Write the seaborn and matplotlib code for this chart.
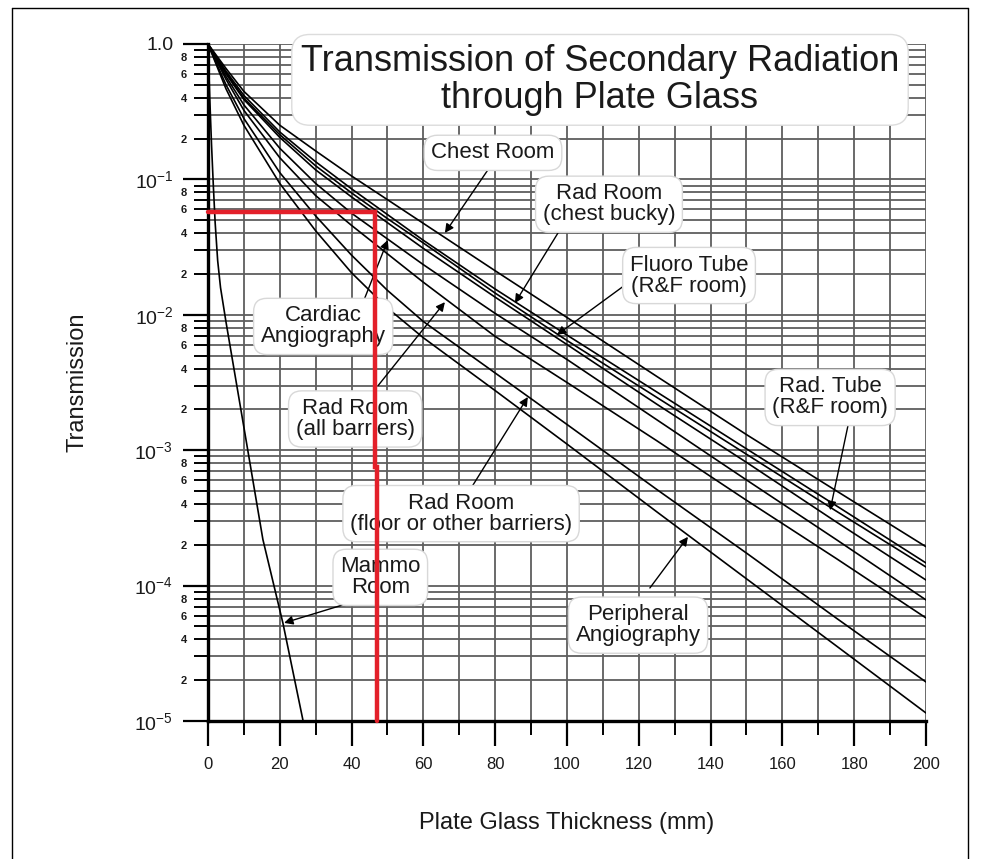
import numpy as np
import pandas as pd
import matplotlib
matplotlib.use("Agg")
import matplotlib.pyplot as plt
import seaborn as sns
from matplotlib.ticker import FixedLocator, FixedFormatter
from matplotlib.lines import Line2D

# ---------------- data (log10 of transmission) ----------------
thickness_mm = [0, 5, 10, 20, 30, 40, 50, 60, 80, 100, 125, 150, 175, 200]
chest_room_log = [0, -0.18, -0.35, -0.60, -0.79, -0.975, -1.15, -1.325, -1.675, -2.02, -2.455, -2.885, -3.30, -3.713]
rad_chest_bucky_log = [0, -0.20, -0.38, -0.65, -0.87, -1.07, -1.26, -1.45, -1.81, -2.15, -2.57, -2.99, -3.41, -3.833]
rad_tube_rf_log = [0, -0.21, -0.40, -0.67, -0.90, -1.10, -1.29, -1.47, -1.84, -2.19, -2.61, -3.03, -3.45, -3.863]
fluoro_tube_rf_log = [0, -0.22, -0.41, -0.69, -0.93, -1.13, -1.32, -1.51, -1.87, -2.22, -2.66, -3.09, -3.53, -3.959]
cardiac_angio_log = [0, -0.24, -0.45, -0.77, -1.03, -1.25, -1.44, -1.63, -1.99, -2.33, -2.775, -3.22, -3.66, -4.106]
rad_all_barriers_log = [0, -0.26, -0.49, -0.84, -1.12, -1.34, -1.55, -1.76, -2.16, -2.50, -2.93, -3.37, -3.80, -4.239]
rad_floor_log = [0, -0.30, -0.55, -0.95, -1.27, -1.56, -1.82, -2.05, -2.43, -2.81, -3.29, -3.76, -4.24, -4.712]
peripheral_angio_log = [0, -0.33, -0.60, -1.03, -1.38, -1.69, -1.95, -2.17, -2.56, -2.955, -3.455, -3.95, -4.445, -4.941]

mammo_mm = [0, 0.5, 1, 1.5, 2, 2.7, 3.5, 5, 10, 15.3, 20.9, 26.5]
mammo_log = [0, -0.40, -0.75, -1.05, -1.32, -1.60, -1.80, -2.05, -2.83, -3.66, -4.28, -5.0]

# red reading line
red_mm = [0, 46.5, 46.5, 47.2, 47.2]
red_T = [0.057, 0.057, 7.5e-4, 7.5e-4, 1e-5]

x_ticks = [0, 20, 40, 60, 80, 100, 120, 140, 160, 180, 200]
x_tick_labels = ["0", "20", "40", "60", "80", "100", "120", "140", "160", "180", "200"]
y_major = [1e-5, 1e-4, 1e-3, 1e-2, 1e-1, 1.0]
y_major_labels = ["$10^{-5}$", "$10^{-4}$", "$10^{-3}$", "$10^{-2}$", "$10^{-1}$", "1.0"]
y_minor_mult = [2, 3, 4, 5, 6, 7, 8, 9]
y_minor_mult_labels = ["2", "", "4", "", "6", "", "8", ""]

title_text = "Transmission of Secondary Radiation\nthrough Plate Glass"
x_label = "Plate Glass Thickness (mm)"
y_label = "Transmission"

curve_names = ["Chest Room", "Rad Room (chest bucky)", "Rad Tube (R&F room)", "Fluoro Tube (R&F room)",
               "Cardiac Angiography", "Rad Room (all barriers)", "Rad Room (floor or other barriers)",
               "Peripheral Angiography"]
curve_logs = [chest_room_log, rad_chest_bucky_log, rad_tube_rf_log, fluoro_tube_rf_log,
              cardiac_angio_log, rad_all_barriers_log, rad_floor_log, peripheral_angio_log]

# labels: (text, center x mm, center T, tail x, tail T, head x, head T)
labels = [
    ("Chest Room", 79.4, 0.157, 78.3, 0.121, 66.0, 0.0402),
    ("Rad Room\n(chest bucky)", 111.7, 0.0655, 97.5, 0.0402, 85.5, 0.0122),
    ("Fluoro Tube\n(R&F room)", 134.0, 0.0195, 117.0, 0.0172, 97.2, 0.0071),
    ("Rad. Tube\n(R&F room)", 173.3, 2.45e-3, 178.3, 1.53e-3, 173.3, 3.6e-4),
    ("Cardiac\nAngiography", 32.1, 8.2e-3, 42.9, 0.0118, 50.1, 0.0357),
    ("Rad Room\n(all barriers)", 41.0, 1.7e-3, 47.4, 3.0e-3, 66.0, 0.0124),
    ("Rad Room\n(floor or other barriers)", 70.5, 3.4e-4, 73.0, 5.1e-4, 89.1, 2.47e-3),
    ("Mammo\nRoom", 48.0, 1.15e-4, 37.6, 7.2e-5, 21.2, 5.3e-5),
    ("Peripheral\nAngiography", 119.8, 5.1e-5, 123.1, 9.6e-5, 133.7, 2.29e-4),
]

# ---------------- build table ----------------
rows = []
for name, lg in zip(curve_names, curve_logs):
    for xv, lv in zip(thickness_mm, lg):
        rows.append((name, xv, 10.0 ** lv))
for xv, lv in zip(mammo_mm, mammo_log):
    rows.append(("Mammo Room", xv, 10.0 ** lv))
df = pd.DataFrame(rows, columns=["room", "thickness", "transmission"])

# ---------------- style ----------------
sns.set_theme(style="white")
plt.rcParams['font.family'] = ['Liberation Sans', 'DejaVu Sans']
plt.rcParams['mathtext.fontset'] = 'custom'
plt.rcParams['mathtext.rm'] = 'Liberation Sans'
plt.rcParams['mathtext.it'] = 'Liberation Sans:italic'
plt.rcParams['mathtext.bf'] = 'Liberation Sans:bold'

fig = plt.figure(figsize=(9.81, 8.59), dpi=100)
fig.patch.set_facecolor("white")
ax = fig.add_axes([0.212, 0.1607, 0.7319, 0.7881])
ax.set_axisbelow(True)

sns.lineplot(data=df, x="thickness", y="transmission", units="room", estimator=None,
             sort=False, color="black", lw=1.2, ax=ax, zorder=3)

ax.set_yscale("log")
ax.set_xlim(0, 200)
ax.set_ylim(1e-5, 1.0)

# ticks
ax.xaxis.set_major_locator(FixedLocator(x_ticks))
ax.xaxis.set_major_formatter(FixedFormatter(x_tick_labels))
ax.xaxis.set_minor_locator(FixedLocator([t + 10 for t in x_ticks[:-1]]))

ax.yaxis.set_major_locator(FixedLocator(y_major))
ax.yaxis.set_major_formatter(FixedFormatter(y_major_labels))
minor_pos, minor_lab = [], []
for dec in y_major[:-1]:
    for m, lab in zip(y_minor_mult, y_minor_mult_labels):
        minor_pos.append(m * dec)
        minor_lab.append(lab)
ax.yaxis.set_minor_locator(FixedLocator(minor_pos))
ax.yaxis.set_minor_formatter(FixedFormatter(minor_lab))

ax.tick_params(axis="both", which="both", bottom=True, left=True, top=False, right=False)
ax.tick_params(axis="both", which="major", direction="out", length=18, width=1.6,
               color="black", labelcolor="#1a1a1a")
ax.tick_params(axis="x", which="major", labelsize=12, pad=8)
ax.tick_params(axis="y", which="major", labelsize=14, pad=7)
ax.tick_params(axis="x", which="minor", direction="out", length=10, width=1.4, color="black")
ax.tick_params(axis="y", which="minor", direction="out", length=10, width=1.4, color="black",
               labelsize=8, pad=5, labelcolor="#1a1a1a")
for t in ax.yaxis.get_minorticklabels():
    t.set_fontweight("bold")

ax.grid(True, which="both", axis="both", color="#5e5e5e", lw=1.3)

for s in ["top", "right"]:
    ax.spines[s].set_visible(False)
for s in ["left", "bottom"]:
    ax.spines[s].set_linewidth(2.4)
    ax.spines[s].set_color("black")
    ax.spines[s].set_zorder(4)

ax.set_xlabel(x_label, fontsize=17, color="#1a1a1a", labelpad=16)
ax.set_ylabel(y_label, fontsize=17, color="#1a1a1a")
ax.yaxis.set_label_coords(-0.167, 0.5)
ax.xaxis.set_label_coords(0.5, -0.135)

# title box
ax.text(0.546, 0.947, title_text, transform=ax.transAxes, ha="center", va="center",
        fontsize=26, color="#1a1a1a", linespacing=1.1, zorder=6,
        bbox=dict(boxstyle="round,pad=0.25,rounding_size=0.5", fc="white", ec="#dcdcdc", lw=1))

# labels and arrows
for text, cx, cy, tx, ty, hx, hy in labels:
    ax.annotate("", xy=(hx, hy), xytext=(tx, ty),
                arrowprops=dict(arrowstyle="-|>", color="black", lw=1.0, mutation_scale=13,
                                shrinkA=0, shrinkB=0), zorder=5)
    ax.text(cx, cy, text, ha="center", va="center", fontsize=16, color="#1a1a1a",
            linespacing=1.0, zorder=6,
            bbox=dict(boxstyle="round,pad=0.32,rounding_size=0.6", fc="white", ec="#d8d8d8", lw=1))

# red reading line
ax.plot(red_mm, red_T, color="#e3202a", lw=3.2, solid_joinstyle="miter", zorder=8, clip_on=False)

# figure frame
for (xs, ys) in [((12, 12), (0, 851)), ((12, 968), (851, 851)), ((968, 968), (851, 0))]:
    fig.add_artist(Line2D([x / 981 for x in xs], [y / 859 for y in ys], color="black", lw=1.0,
                          transform=fig.transFigure))

fig.savefig("out.png", dpi=100)
